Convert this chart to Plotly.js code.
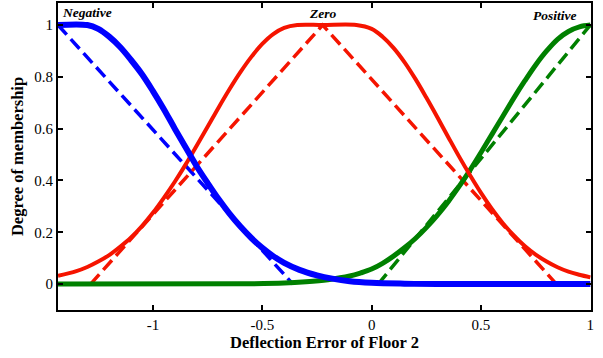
<!DOCTYPE html>
<html>
<head>
<meta charset="utf-8">
<script src="https://cdn.plot.ly/plotly-3.0.1.min.js"></script>
<style>html,body{margin:0;padding:0;background:#fff;}#chart{width:603px;height:358px;}</style>
</head>
<body>
<div id="chart"></div>
<script>
// Solid membership curves
const negX = [-1.434, -1.30, -1.25, -1.20, -1.15, -1.10, -1.05, -1.00, -0.95, -0.90, -0.85, -0.80, -0.75, -0.70, -0.65, -0.60, -0.55, -0.50, -0.45, -0.40, -0.33, -0.25, -0.18, -0.10, 0.0, 0.15, 0.3, 1.0];
const negY = [1, 1, 0.985, 0.955, 0.915, 0.865, 0.81, 0.745, 0.675, 0.60, 0.527, 0.455, 0.39, 0.328, 0.272, 0.222, 0.178, 0.14, 0.108, 0.082, 0.055, 0.034, 0.021, 0.011, 0.005, 0.0015, 0, 0];

const zeroX = [-1.434, -1.35, -1.30, -1.25, -1.20, -1.15, -1.10, -1.05, -1.00, -0.95, -0.90, -0.85, -0.80, -0.75, -0.70, -0.65, -0.60, -0.55, -0.50, -0.45, -0.40, -0.34, -0.224, -0.07, 0.0, 0.05, 0.10, 0.15, 0.20, 0.25, 0.30, 0.35, 0.40, 0.45, 0.50, 0.55, 0.60, 0.65, 0.70, 0.75, 0.80, 0.85, 0.90, 0.95, 1.0];
const zeroY = [0.032, 0.05, 0.066, 0.087, 0.112, 0.144, 0.18, 0.224, 0.275, 0.333, 0.395, 0.462, 0.534, 0.607, 0.681, 0.752, 0.818, 0.877, 0.927, 0.965, 0.989, 1.0, 1.0, 1.0, 0.985, 0.955, 0.912, 0.857, 0.792, 0.72, 0.645, 0.568, 0.492, 0.42, 0.352, 0.29, 0.235, 0.188, 0.147, 0.114, 0.087, 0.065, 0.048, 0.036, 0.026];

const posX = [-1.434, -0.60, -0.40, -0.30, -0.20, -0.10, -0.05, 0.0, 0.05, 0.10, 0.15, 0.20, 0.25, 0.30, 0.35, 0.40, 0.45, 0.50, 0.55, 0.60, 0.65, 0.70, 0.75, 0.80, 0.85, 0.90, 0.95, 1.0];
const posY = [0, 0.001, 0.004, 0.009, 0.017, 0.031, 0.043, 0.058, 0.08, 0.108, 0.14, 0.176, 0.218, 0.265, 0.318, 0.377, 0.44, 0.508, 0.578, 0.648, 0.718, 0.784, 0.846, 0.9, 0.945, 0.975, 0.993, 1.0];

// Dashed triangular membership functions
const negDashX = [-1.434, -0.36];
const negDashY = [1, 0];
const zeroDashX = [-1.285, -0.224, 0.845];
const zeroDashY = [0, 1, 0];
const posDashX = [0.03, 1.0];
const posDashY = [0, 1];

// Labels
const labelText = ['Negative', 'Zero', 'Positive'];
const labelX = [-1.425, -0.224, 0.84];
const labelY = [1.05, 1.045, 1.035];

const xTicks = [-1, -0.5, 0, 0.5, 1];
const yTicks = [0, 0.2, 0.4, 0.6, 0.8, 1];

const BLUE = '#0000ff', RED = '#f51400', GREEN = '#008000';

const traces = [
  {x: negDashX, y: negDashY, mode: 'lines', line: {color: BLUE, width: 3.5, dash: '13px,6px'}},
  {x: zeroDashX, y: zeroDashY, mode: 'lines', line: {color: RED, width: 3.5, dash: '13px,6px'}},
  {x: posDashX, y: posDashY, mode: 'lines', line: {color: GREEN, width: 3.5, dash: '13px,6px'}},
  {x: posX, y: posY, mode: 'lines', line: {color: GREEN, width: 5, shape: 'spline'}},
  {x: zeroX, y: zeroY, mode: 'lines', line: {color: RED, width: 4, shape: 'spline'}},
  {x: negX, y: negY, mode: 'lines', line: {color: BLUE, width: 6, shape: 'spline'}}
];

const annotations = labelText.map((t, i) => ({
  text: '<b><i>' + t + '</i></b>',
  x: labelX[i], y: labelY[i], xref: 'x', yref: 'y',
  xanchor: i === 0 ? 'left' : 'center', yanchor: 'middle',
  showarrow: false,
  font: {family: 'Liberation Serif', size: 13.5, color: '#000'}
}));

const axisCommon = {
  showline: true, linecolor: '#000', linewidth: 2, mirror: 'ticks',
  ticks: 'inside', ticklen: 5, tickwidth: 2, tickcolor: '#000',
  showgrid: false, zeroline: false,
  tickfont: {family: 'Liberation Serif', size: 15, color: '#000'}
};

const layout = {
  width: 603, height: 358,
  margin: {l: 58, r: 12, t: 3, b: 48},
  paper_bgcolor: '#fff', plot_bgcolor: '#fff',
  showlegend: false,
  xaxis: Object.assign({}, axisCommon, {
    range: [-1.434, 1.003], tickvals: xTicks, ticktext: xTicks.map(String),
    title: {text: '<b>Deflection Error of Floor 2</b>', font: {family: 'Liberation Serif', size: 16.5, color: '#000'}, standoff: 2}
  }),
  yaxis: Object.assign({}, axisCommon, {
    range: [-0.1, 1.085], tickvals: yTicks, ticktext: yTicks.map(String),
    title: {text: '<b>Degree of membership</b>', font: {family: 'Liberation Serif', size: 16.5, color: '#000'}, standoff: 6}
  }),
  annotations: annotations
};

Plotly.newPlot('chart', traces, layout, {displayModeBar: false, staticPlot: true});
</script>
</body>
</html>
